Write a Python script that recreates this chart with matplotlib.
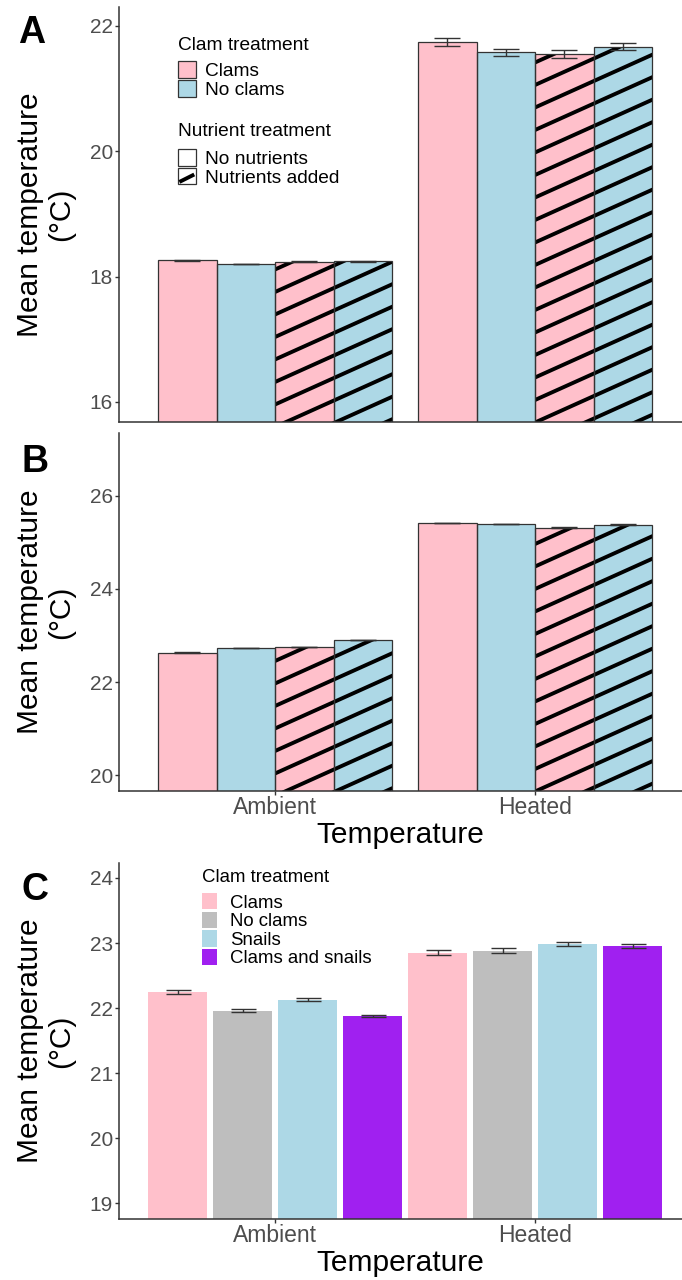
import numpy as np
import matplotlib
matplotlib.use("Agg")
import matplotlib.pyplot as plt
from matplotlib.patches import Patch, Rectangle
from matplotlib.lines import Line2D
from matplotlib.legend_handler import HandlerBase
from matplotlib.transforms import IdentityTransform, TransformedPatchPath

plt.rcParams["font.family"] = ["Liberation Sans", "DejaVu Sans"]

# ---------------------------------------------------------------- data
temperature = ["Ambient", "Heated"]

clam_ab = ["Clams", "No clams"]
nutrient_ab = ["No nutrients", "Nutrients added"]
# bar order inside each temperature group (panels A and B)
ab_clam = ["Clams", "No clams", "Clams", "No clams"]
ab_nutr = ["No nutrients", "No nutrients", "Nutrients added", "Nutrients added"]

# Panel A: mean temperature (°C) and standard error
a_ambient = [18.26, 18.20, 18.24, 18.245]
a_heated = [21.745, 21.575, 21.553, 21.665]
a_ambient_se = [0.008, 0.006, 0.007, 0.007]
a_heated_se = [0.066, 0.059, 0.059, 0.056]

# Panel B
b_ambient = [22.63, 22.73, 22.75, 22.90]
b_heated = [25.42, 25.40, 25.32, 25.38]
b_ambient_se = [0.006, 0.006, 0.006, 0.006]
b_heated_se = [0.006, 0.006, 0.006, 0.006]

# Panel C
clam_c = ["Clams", "No clams", "Snails", "Clams and snails"]
c_ambient = [22.25, 21.96, 22.13, 21.88]
c_heated = [22.85, 22.885, 22.985, 22.95]
c_ambient_se = [0.026, 0.023, 0.026, 0.018]
c_heated_se = [0.036, 0.033, 0.030, 0.028]

# ---------------------------------------------------------------- styles
W, H = 682, 1280
PX_PER_PT = 100 / 72
fill_ab = {"Clams": "#FFC0CB", "No clams": "#ADD8E6"}
fill_c = {"Clams": "#FFC0CB", "No clams": "#BEBEBE",
          "Snails": "#ADD8E6", "Clams and snails": "#A020F0"}
axis_col = "#333333"
tick_col = "#4D4D4D"

fig = plt.figure(figsize=(W / 100, H / 100), dpi=100)


def px_axes(top, bottom, left=119, right=682):
    return fig.add_axes([left / W, 1 - bottom / H, (right - left) / W, (bottom - top) / H])


def style_axes(ax, ylim, yticks, show_x):
    ax.set_xlim(0.4, 2.565)
    ax.set_ylim(*ylim)
    ax.set_yticks(yticks)
    ax.set_yticklabels([str(t) for t in yticks])
    for s in ("top", "right"):
        ax.spines[s].set_visible(False)
    for s in ("left", "bottom"):
        ax.spines[s].set_color(axis_col)
        ax.spines[s].set_linewidth(1.1)
    ax.tick_params(axis="y", length=3, width=1.0, color=axis_col,
                   labelsize=15, labelcolor=tick_col, pad=1.5)
    if show_x:
        ax.set_xticks([1, 2])
        ax.set_xticklabels(temperature)
        ax.tick_params(axis="x", length=3, width=1.0, color=axis_col,
                       labelsize=16.5, labelcolor=tick_col, pad=0.5)
    else:
        ax.set_xticks([])


def add_stripes(ax, bar, slope=0.45, spacing=22.5, lw=2.8, anchor=(156, 40)):
    """Diagonal stripes in pixel space, clipped to a bar."""
    x0, y0, x1, y1 = bar.get_window_extent().extents
    ox, oy = ax.transAxes.transform((0, 0))
    ax_x, ax_y = ox + anchor[0], oy + anchor[1]
    xs = np.array([x0 - 10, x1 + 10])
    base = ax_y + slope * (xs - ax_x)
    kmin = int(np.floor((y0 - base.max()) / spacing)) - 1
    kmax = int(np.ceil((y1 - base.min()) / spacing)) + 1
    for k in range(kmin, kmax + 1):
        ln = Line2D(xs, base + k * spacing, color="black", lw=lw,
                    solid_capstyle="butt", transform=IdentityTransform(), zorder=1.5)
        ax.add_artist(ln)
        ln.set_clip_path(TransformedPatchPath(bar))


def draw_ab(ax, ambient, heated, amb_se, heat_se, anchor):
    width = 0.225
    offsets = (np.arange(4) - 1.5) * width
    for g, (means, ses) in enumerate([(ambient, amb_se), (heated, heat_se)]):
        for i in range(4):
            x = g + 1 + offsets[i]
            bar = ax.bar(x, means[i], width=width, color=fill_ab[ab_clam[i]],
                         edgecolor="none", zorder=1)[0]
            if ab_nutr[i] == "Nutrients added":
                add_stripes(ax, bar, anchor=anchor)
            ax.bar(x, means[i], width=width, color="none",
                   edgecolor=axis_col, linewidth=0.9, zorder=2)
            ax.errorbar(x, means[i], yerr=ses[i], fmt="none", ecolor=axis_col,
                        elinewidth=1.0, capsize=9.5, capthick=1.0, zorder=3)


def draw_c(ax, ambient, heated, amb_se, heat_se):
    width = 0.225
    slot = 0.25
    offsets = (np.arange(4) - 1.5) * slot
    for g, (means, ses) in enumerate([(ambient, amb_se), (heated, heat_se)]):
        for i in range(4):
            x = g + 1 + offsets[i]
            ax.bar(x, means[i], width=width, color=fill_c[clam_c[i]],
                   edgecolor="none", zorder=1)
            ax.errorbar(x, means[i], yerr=ses[i], fmt="none", ecolor=axis_col,
                        elinewidth=1.0, capsize=9.0, capthick=1.0, zorder=3)


def ylabel(ax_top, ax_bottom):
    fig.text(45.5 / W, 1 - (ax_top + ax_bottom) / 2 / H, "Mean temperature\n(°C)",
             rotation=90, ha="center", va="center", fontsize=21.5,
             multialignment="center", linespacing=1.15)


def xlabel(y):
    fig.text(400.5 / W, 1 - y / H, "Temperature", ha="center", va="center", fontsize=21.5)


def panel_letter(x, y, s):
    fig.text(x / W, 1 - y / H, s, ha="center", va="center", fontsize=27, fontweight="bold")


class StripeKey(HandlerBase):
    def create_artists(self, legend, orig_handle, xdescent, ydescent,
                       width, height, fontsize, trans):
        r = Rectangle((-xdescent, -ydescent), width, height, facecolor="white",
                      edgecolor=axis_col, lw=0.9, transform=trans)
        ln = Line2D([-xdescent + 1, -xdescent + width - 1],
                    [-ydescent + 0.15 * height, -ydescent + 0.6 * height],
                    color="black", lw=2.8, solid_capstyle="butt", transform=trans)
        return [r, ln]


def legend_at(ax, handles, labels, title, key_left, box_top, fontsize,
              title_size, pad_frac, handlelength, handleheight, textpad,
              title_gap=5.0, **kw):
    pad = pad_frac * fontsize * PX_PER_PT
    leg = ax.legend(handles, labels, title=title, loc="upper left",
                    bbox_to_anchor=((key_left - pad) / W, 1 - (box_top - pad) / H),
                    bbox_transform=fig.transFigure, frameon=False,
                    fontsize=fontsize, title_fontsize=title_size,
                    alignment="left", handlelength=handlelength,
                    handleheight=handleheight, labelspacing=0.0,
                    handletextpad=textpad, borderpad=pad_frac,
                    borderaxespad=0, **kw)
    # space between the legend title and its keys (points)
    leg._legend_box.sep = title_gap
    return leg


# ---------------------------------------------------------------- panel A
axA = px_axes(7, 422)
style_axes(axA, (15.68, 22.3), [16, 18, 20, 22], show_x=False)
draw_ab(axA, a_ambient, a_heated, a_ambient_se, a_heated_se, anchor=(156, 40))
ylabel(7, 422)
panel_letter(32, 33, "A")

clam_handles = [Patch(facecolor=fill_ab[c], edgecolor=axis_col, lw=0.9) for c in clam_ab]
leg1 = legend_at(axA, clam_handles, clam_ab, "Clam treatment", 178, 37,
                 13.8, 13.8, 0.7, 0.92, 1.0, 0.5)
axA.add_artist(leg1)
nut_handles = [Patch(facecolor="white", edgecolor=axis_col, lw=0.9), "stripe"]
legend_at(axA, nut_handles, nutrient_ab, "Nutrient treatment", 178, 123,
          13.8, 13.8, 0.7, 0.92, 0.95, 0.5, title_gap=6.5,
          handler_map={str: StripeKey()})

# ---------------------------------------------------------------- panel B
axB = px_axes(433, 791)
style_axes(axB, (19.66, 27.35), [20, 22, 24, 26], show_x=True)
draw_ab(axB, b_ambient, b_heated, b_ambient_se, b_heated_se, anchor=(156, 40))
ylabel(433, 791)
xlabel(835)
panel_letter(35, 462, "B")

# ---------------------------------------------------------------- panel C
axC = px_axes(863, 1219)
style_axes(axC, (18.76, 24.23), [19, 20, 21, 22, 23, 24], show_x=True)
draw_c(axC, c_ambient, c_heated, c_ambient_se, c_heated_se)
ylabel(863, 1219)
xlabel(1263)
panel_letter(35, 890, "C")

c_handles = [Patch(facecolor=fill_c[c], edgecolor="none") for c in clam_c]
legend_at(axC, c_handles, clam_c, "Clam treatment", 202, 869,
          13.4, 13.4, 0.65, 0.8, 0.98, 0.7)

fig.savefig("out.png", dpi=100, facecolor="white")
